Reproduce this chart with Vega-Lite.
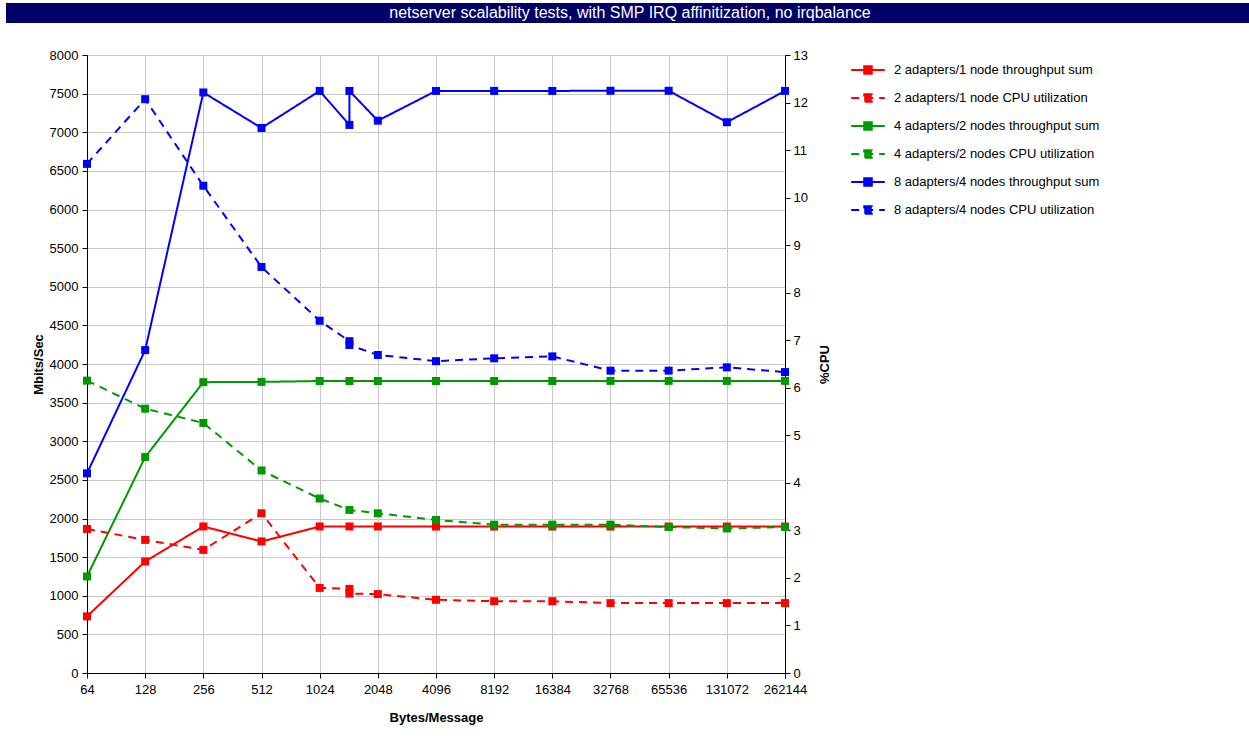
{
  "$schema": "https://vega.github.io/schema/vega-lite/v6.json",
  "background": "white",
  "padding": {"left": 6, "top": 3, "right": 0, "bottom": 0},
  "spacing": 25,
  "resolve": {"legend": {"color": "independent", "strokeDash": "independent"}, "scale": {"color": "independent", "strokeDash": "independent", "x": "independent", "y": "independent"}},
  "config": {
    "font": "Liberation Sans",
    "axis": {"labelFont": "Liberation Sans", "titleFont": "Liberation Sans", "labelColor": "#000", "titleColor": "#000", "domainColor": "#000", "tickColor": "#000", "labelFontSize": 13, "titleFontSize": 13, "titleFontWeight": "bold", "gridColor": "#c8c8c8", "gridWidth": 1, "tickSize": 5}
  },
  "vconcat": [
    {
      "width": 1162,
      "height": 20,
      "view": {"fill": "#000066", "stroke": null},
      "data": {"values": [{"t": "netserver scalability tests, with SMP IRQ affinitization, no irqbalance"}]},
      "mark": {"type": "text", "color": "white", "font": "Liberation Sans", "fontSize": 16, "dx": -38, "baseline": "middle"},
      "encoding": {
        "text": {"field": "t", "type": "nominal"},
        "y": {"datum": 0, "type": "quantitative", "scale": {"domain": [-1, 1]}, "axis": {"domain": true, "translate": 0, "domainColor": "#000066", "domainWidth": 162, "labels": false, "ticks": false, "grid": false, "title": ".", "titleOpacity": 0, "titleFontSize": 10, "titlePadding": 71}}
      }
    },
    {
      "width": 698,
      "height": 618,
      "view": {"stroke": "#000", "strokeWidth": 1},
      "data": {"values": [
        {"s": "2 adapters/1 node throughput sum", "k": "tp", "x": 64, "v": 733, "o": 1},
        {"s": "2 adapters/1 node throughput sum", "k": "tp", "x": 128, "v": 1444, "o": 2},
        {"s": "2 adapters/1 node throughput sum", "k": "tp", "x": 256, "v": 1897, "o": 3},
        {"s": "2 adapters/1 node throughput sum", "k": "tp", "x": 512, "v": 1703, "o": 4},
        {"s": "2 adapters/1 node throughput sum", "k": "tp", "x": 1024, "v": 1897, "o": 5},
        {"s": "2 adapters/1 node throughput sum", "k": "tp", "x": 1460, "v": 1897, "o": 6},
        {"s": "2 adapters/1 node throughput sum", "k": "tp", "x": 2048, "v": 1897, "o": 7},
        {"s": "2 adapters/1 node throughput sum", "k": "tp", "x": 4096, "v": 1896, "o": 8},
        {"s": "2 adapters/1 node throughput sum", "k": "tp", "x": 8192, "v": 1896, "o": 9},
        {"s": "2 adapters/1 node throughput sum", "k": "tp", "x": 16384, "v": 1896, "o": 10},
        {"s": "2 adapters/1 node throughput sum", "k": "tp", "x": 32768, "v": 1896, "o": 11},
        {"s": "2 adapters/1 node throughput sum", "k": "tp", "x": 65536, "v": 1896, "o": 12},
        {"s": "2 adapters/1 node throughput sum", "k": "tp", "x": 131072, "v": 1896, "o": 13},
        {"s": "2 adapters/1 node throughput sum", "k": "tp", "x": 262144, "v": 1896, "o": 14},

        {"s": "2 adapters/1 node CPU utilization", "k": "cpu", "x": 64, "v": 3.03, "o": 1},
        {"s": "2 adapters/1 node CPU utilization", "k": "cpu", "x": 128, "v": 2.80, "o": 2},
        {"s": "2 adapters/1 node CPU utilization", "k": "cpu", "x": 256, "v": 2.59, "o": 3},
        {"s": "2 adapters/1 node CPU utilization", "k": "cpu", "x": 512, "v": 3.36, "o": 4},
        {"s": "2 adapters/1 node CPU utilization", "k": "cpu", "x": 1024, "v": 1.79, "o": 5},
        {"s": "2 adapters/1 node CPU utilization", "k": "cpu", "x": 1460, "v": 1.77, "o": 6},
        {"s": "2 adapters/1 node CPU utilization", "k": "cpu", "x": 1460, "v": 1.67, "o": 7},
        {"s": "2 adapters/1 node CPU utilization", "k": "cpu", "x": 2048, "v": 1.66, "o": 8},
        {"s": "2 adapters/1 node CPU utilization", "k": "cpu", "x": 4096, "v": 1.54, "o": 9},
        {"s": "2 adapters/1 node CPU utilization", "k": "cpu", "x": 8192, "v": 1.51, "o": 10},
        {"s": "2 adapters/1 node CPU utilization", "k": "cpu", "x": 16384, "v": 1.51, "o": 11},
        {"s": "2 adapters/1 node CPU utilization", "k": "cpu", "x": 32768, "v": 1.47, "o": 12},
        {"s": "2 adapters/1 node CPU utilization", "k": "cpu", "x": 65536, "v": 1.47, "o": 13},
        {"s": "2 adapters/1 node CPU utilization", "k": "cpu", "x": 131072, "v": 1.47, "o": 14},
        {"s": "2 adapters/1 node CPU utilization", "k": "cpu", "x": 262144, "v": 1.47, "o": 15},

        {"s": "4 adapters/2 nodes throughput sum", "k": "tp", "x": 64, "v": 1250, "o": 1},
        {"s": "4 adapters/2 nodes throughput sum", "k": "tp", "x": 128, "v": 2795, "o": 2},
        {"s": "4 adapters/2 nodes throughput sum", "k": "tp", "x": 256, "v": 3765, "o": 3},
        {"s": "4 adapters/2 nodes throughput sum", "k": "tp", "x": 512, "v": 3768, "o": 4},
        {"s": "4 adapters/2 nodes throughput sum", "k": "tp", "x": 1024, "v": 3780, "o": 5},
        {"s": "4 adapters/2 nodes throughput sum", "k": "tp", "x": 1460, "v": 3780, "o": 6},
        {"s": "4 adapters/2 nodes throughput sum", "k": "tp", "x": 2048, "v": 3780, "o": 7},
        {"s": "4 adapters/2 nodes throughput sum", "k": "tp", "x": 4096, "v": 3780, "o": 8},
        {"s": "4 adapters/2 nodes throughput sum", "k": "tp", "x": 8192, "v": 3780, "o": 9},
        {"s": "4 adapters/2 nodes throughput sum", "k": "tp", "x": 16384, "v": 3780, "o": 10},
        {"s": "4 adapters/2 nodes throughput sum", "k": "tp", "x": 32768, "v": 3781, "o": 11},
        {"s": "4 adapters/2 nodes throughput sum", "k": "tp", "x": 65536, "v": 3781, "o": 12},
        {"s": "4 adapters/2 nodes throughput sum", "k": "tp", "x": 131072, "v": 3781, "o": 13},
        {"s": "4 adapters/2 nodes throughput sum", "k": "tp", "x": 262144, "v": 3781, "o": 14},

        {"s": "4 adapters/2 nodes CPU utilization", "k": "cpu", "x": 64, "v": 6.15, "o": 1},
        {"s": "4 adapters/2 nodes CPU utilization", "k": "cpu", "x": 128, "v": 5.56, "o": 2},
        {"s": "4 adapters/2 nodes CPU utilization", "k": "cpu", "x": 256, "v": 5.26, "o": 3},
        {"s": "4 adapters/2 nodes CPU utilization", "k": "cpu", "x": 512, "v": 4.26, "o": 4},
        {"s": "4 adapters/2 nodes CPU utilization", "k": "cpu", "x": 1024, "v": 3.67, "o": 5},
        {"s": "4 adapters/2 nodes CPU utilization", "k": "cpu", "x": 1460, "v": 3.43, "o": 6},
        {"s": "4 adapters/2 nodes CPU utilization", "k": "cpu", "x": 2048, "v": 3.36, "o": 7},
        {"s": "4 adapters/2 nodes CPU utilization", "k": "cpu", "x": 4096, "v": 3.22, "o": 8},
        {"s": "4 adapters/2 nodes CPU utilization", "k": "cpu", "x": 8192, "v": 3.12, "o": 9},
        {"s": "4 adapters/2 nodes CPU utilization", "k": "cpu", "x": 16384, "v": 3.12, "o": 10},
        {"s": "4 adapters/2 nodes CPU utilization", "k": "cpu", "x": 32768, "v": 3.12, "o": 11},
        {"s": "4 adapters/2 nodes CPU utilization", "k": "cpu", "x": 65536, "v": 3.07, "o": 12},
        {"s": "4 adapters/2 nodes CPU utilization", "k": "cpu", "x": 131072, "v": 3.04, "o": 13},
        {"s": "4 adapters/2 nodes CPU utilization", "k": "cpu", "x": 262144, "v": 3.07, "o": 14},

        {"s": "8 adapters/4 nodes throughput sum", "k": "tp", "x": 64, "v": 2585, "o": 1},
        {"s": "8 adapters/4 nodes throughput sum", "k": "tp", "x": 128, "v": 4180, "o": 2},
        {"s": "8 adapters/4 nodes throughput sum", "k": "tp", "x": 256, "v": 7515, "o": 3},
        {"s": "8 adapters/4 nodes throughput sum", "k": "tp", "x": 512, "v": 7055, "o": 4},
        {"s": "8 adapters/4 nodes throughput sum", "k": "tp", "x": 1024, "v": 7535, "o": 5},
        {"s": "8 adapters/4 nodes throughput sum", "k": "tp", "x": 1460, "v": 7095, "o": 6},
        {"s": "8 adapters/4 nodes throughput sum", "k": "tp", "x": 1460, "v": 7535, "o": 7},
        {"s": "8 adapters/4 nodes throughput sum", "k": "tp", "x": 2048, "v": 7150, "o": 8},
        {"s": "8 adapters/4 nodes throughput sum", "k": "tp", "x": 4096, "v": 7535, "o": 9},
        {"s": "8 adapters/4 nodes throughput sum", "k": "tp", "x": 8192, "v": 7535, "o": 10},
        {"s": "8 adapters/4 nodes throughput sum", "k": "tp", "x": 16384, "v": 7535, "o": 11},
        {"s": "8 adapters/4 nodes throughput sum", "k": "tp", "x": 32768, "v": 7537, "o": 12},
        {"s": "8 adapters/4 nodes throughput sum", "k": "tp", "x": 65536, "v": 7537, "o": 13},
        {"s": "8 adapters/4 nodes throughput sum", "k": "tp", "x": 131072, "v": 7130, "o": 14},
        {"s": "8 adapters/4 nodes throughput sum", "k": "tp", "x": 262144, "v": 7535, "o": 15},

        {"s": "8 adapters/4 nodes CPU utilization", "k": "cpu", "x": 64, "v": 10.71, "o": 1},
        {"s": "8 adapters/4 nodes CPU utilization", "k": "cpu", "x": 128, "v": 12.07, "o": 2},
        {"s": "8 adapters/4 nodes CPU utilization", "k": "cpu", "x": 256, "v": 10.25, "o": 3},
        {"s": "8 adapters/4 nodes CPU utilization", "k": "cpu", "x": 512, "v": 8.54, "o": 4},
        {"s": "8 adapters/4 nodes CPU utilization", "k": "cpu", "x": 1024, "v": 7.41, "o": 5},
        {"s": "8 adapters/4 nodes CPU utilization", "k": "cpu", "x": 1460, "v": 6.98, "o": 6},
        {"s": "8 adapters/4 nodes CPU utilization", "k": "cpu", "x": 1460, "v": 6.90, "o": 7},
        {"s": "8 adapters/4 nodes CPU utilization", "k": "cpu", "x": 2048, "v": 6.69, "o": 8},
        {"s": "8 adapters/4 nodes CPU utilization", "k": "cpu", "x": 4096, "v": 6.56, "o": 9},
        {"s": "8 adapters/4 nodes CPU utilization", "k": "cpu", "x": 8192, "v": 6.62, "o": 10},
        {"s": "8 adapters/4 nodes CPU utilization", "k": "cpu", "x": 16384, "v": 6.66, "o": 11},
        {"s": "8 adapters/4 nodes CPU utilization", "k": "cpu", "x": 32768, "v": 6.36, "o": 12},
        {"s": "8 adapters/4 nodes CPU utilization", "k": "cpu", "x": 65536, "v": 6.36, "o": 13},
        {"s": "8 adapters/4 nodes CPU utilization", "k": "cpu", "x": 131072, "v": 6.43, "o": 14},
        {"s": "8 adapters/4 nodes CPU utilization", "k": "cpu", "x": 262144, "v": 6.33, "o": 15}
      ]},
      "encoding": {
        "x": {"field": "x", "type": "quantitative",
          "scale": {"type": "log", "base": 2, "domain": [64, 262144], "nice": false},
          "axis": {"title": "Bytes/Message", "values": [64, 128, 256, 512, 1024, 2048, 4096, 8192, 16384, 32768, 65536, 131072, 262144], "format": "d", "grid": true, "labelFlush": false, "labelOverlap": false, "labelBound": false, "labelPadding": 5, "titlePadding": 15}},
        "color": {"field": "s", "type": "nominal",
          "scale": {"domain": ["2 adapters/1 node throughput sum", "2 adapters/1 node CPU utilization", "4 adapters/2 nodes throughput sum", "4 adapters/2 nodes CPU utilization", "8 adapters/4 nodes throughput sum", "8 adapters/4 nodes CPU utilization"], "range": ["#ff0000", "#ff0000", "#009900", "#009900", "#0000ff", "#0000ff"]},
          "legend": {"orient": "right", "offset": 21, "padding": 0, "title": null, "symbolType": "M-1.2,0H1.2M-0.27,-0.27H0.27V0.27H-0.27Z", "symbolSize": 784, "symbolStrokeWidth": 2, "labelFontSize": 13, "labelFont": "Liberation Sans", "labelColor": "#000", "labelOffset": 11, "rowPadding": 5, "labelLimit": 400,
            "encode": {"symbols": {"update": {"fill": {"scale": "color", "field": "value"}, "opacity": {"value": 1}}}}}},
        "strokeDash": {"field": "s", "type": "nominal",
          "scale": {"domain": ["2 adapters/1 node throughput sum", "2 adapters/1 node CPU utilization", "4 adapters/2 nodes throughput sum", "4 adapters/2 nodes CPU utilization", "8 adapters/4 nodes throughput sum", "8 adapters/4 nodes CPU utilization"], "range": [[1, 0], [8, 6], [1, 0], [8, 6], [1, 0], [8, 6]]},
          "legend": null},
        "order": {"field": "o", "type": "quantitative"}
      },
      "layer": [
        {
          "transform": [{"filter": "datum.k == 'tp'"}],
          "encoding": {
            "y": {"field": "v", "type": "quantitative", "scale": {"domain": [0, 8000], "nice": false},
              "axis": {"orient": "left", "title": "Mbits/Sec", "format": "d", "values": [0, 500, 1000, 1500, 2000, 2500, 3000, 3500, 4000, 4500, 5000, 5500, 6000, 6500, 7000, 7500, 8000], "grid": true, "labelPadding": 4, "titlePadding": 4}}
          },
          "layer": [
            {"mark": {"type": "line", "strokeWidth": 2}},
            {"mark": {"type": "point", "shape": "square", "filled": true, "size": 64, "opacity": 1}, "encoding": {"strokeDash": {"value": [1, 0]}}}
          ]
        },
        {
          "transform": [{"filter": "datum.k == 'cpu'"}],
          "encoding": {
            "y": {"field": "v", "type": "quantitative", "scale": {"domain": [0, 13], "nice": false},
              "axis": {"orient": "right", "title": "%CPU", "format": "d", "values": [0, 1, 2, 3, 4, 5, 6, 7, 8, 9, 10, 11, 12, 13], "grid": false, "labelPadding": 3, "titlePadding": 24, "titleAngle": -90, "titleBaseline": "bottom"}}
          },
          "layer": [
            {"mark": {"type": "line", "strokeWidth": 2}},
            {"mark": {"type": "point", "shape": "square", "filled": true, "size": 64, "opacity": 1}, "encoding": {"strokeDash": {"value": [1, 0]}}}
          ]
        }
      ],
      "resolve": {"scale": {"y": "independent"}}
    }
  ]
}
